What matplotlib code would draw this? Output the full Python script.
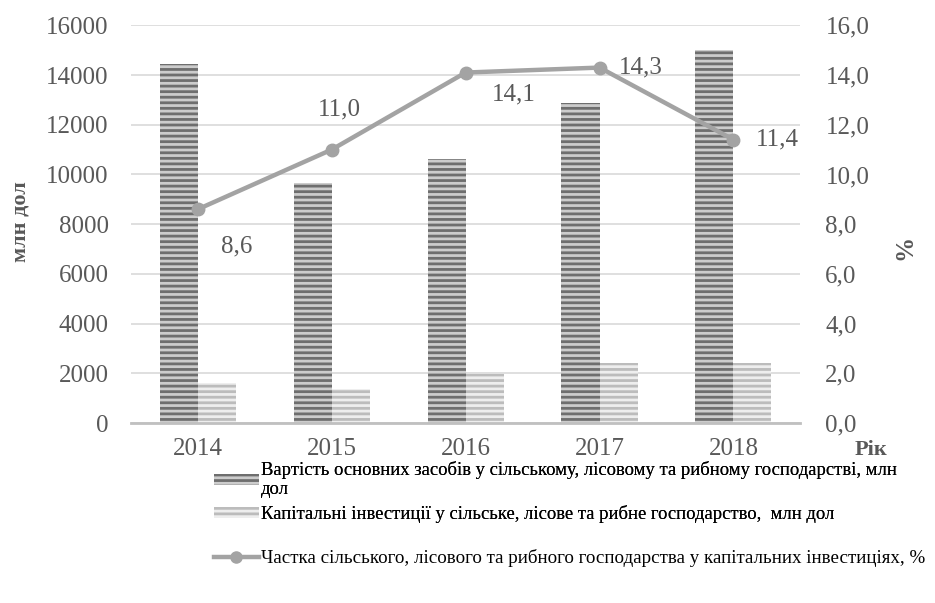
import matplotlib
matplotlib.use("Agg")
import matplotlib.pyplot as plt
from matplotlib.patches import Patch
from matplotlib.lines import Line2D
import numpy as np

years = ["2014", "2015", "2016", "2017", "2018"]
fixed_assets = [14430, 9650, 10610, 12880, 15000]
investments = [1600, 1380, 1990, 2420, 2430]
share = [8.6, 11.0, 14.1, 14.3, 11.4]
share_labels = ["8,6", "11,0", "14,1", "14,3", "11,4"]
left_ticks = [0, 2000, 4000, 6000, 8000, 10000, 12000, 14000, 16000]
right_ticks = [0, 2, 4, 6, 8, 10, 12, 14, 16]

label_fixed = "Вартість основних засобів у сільському, лісовому та рибному господарстві, млн\nдол"
label_inv = "Капітальні інвестиції у сільське, лісове та рибне господарство,  млн дол"
label_share = "Частка сільського, лісового та рибного господарства у капітальних інвестиціях, %"

plt.rcParams['font.family'] = ['Liberation Serif', 'DejaVu Serif']
plt.rcParams['hatch.linewidth'] = 2.0

tick_color = "#595959"
dark_face, dark_hatch = "#cccccc", "#6e6e6e"
light_face, light_hatch = "#eeeeee", "#bcbcbc"
line_color = "#a3a3a3"

fig = plt.figure(figsize=(9.35, 6.03), dpi=100)
ax = fig.add_axes([0.140, 0.2985, 0.716, 0.6595])
ax2 = ax.twinx()

x = np.arange(len(years))
w = 0.284
ax.bar(x - w / 2, fixed_assets, w, color=dark_face, edgecolor=dark_hatch,
       hatch="---", linewidth=0, zorder=2)
ax.bar(x + w / 2, investments, w, color=light_face, edgecolor=light_hatch,
       hatch="---", linewidth=0, zorder=2)

ax.set_xlim(-0.5, len(years) - 0.5)
ax.set_ylim(0, 16000)
ax.set_yticks(left_ticks)
ax.set_yticklabels([str(t) for t in left_ticks])
ax.set_xticks(x)
ax.set_xticklabels(years)
ax.grid(axis="y", color="#d9d9d9", linewidth=1.2, zorder=0)
ax.set_axisbelow(True)
for s in ["top", "left", "right"]:
    ax.spines[s].set_visible(False)
ax.spines["bottom"].set_color("#c0c0c0")
ax.spines["bottom"].set_linewidth(2)
ax.tick_params(axis="both", length=0, labelsize=18, colors=tick_color)
ax.tick_params(axis="y", pad=16)
ax.tick_params(axis="x", pad=11)

ax2.plot(x, share, color=line_color, linewidth=3.2, marker="o",
         markersize=9, zorder=5)
ax2.set_ylim(0, 16)
ax2.set_yticks(right_ticks)
ax2.set_yticklabels([f"{t},0" for t in right_ticks])
for s in ["top", "left", "right", "bottom"]:
    ax2.spines[s].set_visible(False)
ax2.tick_params(axis="y", length=0, labelsize=18, colors=tick_color, pad=18)

offsets = [(39, -37), (8, 40), (48, -22), (41, 0), (44, 0)]
for xi, v, lab, off in zip(x, share, share_labels, offsets):
    ax2.annotate(lab, (xi, v), xytext=off, textcoords="offset pixels",
                 ha="center", va="center", fontsize=18, color=tick_color)

fig.text(0.022, 0.632, "млн дол", rotation=90, ha="center", va="center",
         fontsize=16, fontweight="bold", color=tick_color)
fig.text(0.968, 0.590, "%", rotation=90, ha="center", va="center",
         fontsize=18, fontweight="bold", color=tick_color)
fig.text(0.932, 0.254, "Рік", ha="center", va="center",
         fontsize=16, fontweight="bold", color=tick_color)

h1 = Patch(facecolor=dark_face, edgecolor=dark_hatch, hatch="---", linewidth=0)
h2 = Patch(facecolor=light_face, edgecolor=light_hatch, hatch="---", linewidth=0)
h3 = Line2D([], [], color=line_color, linewidth=3.2, marker="o", markersize=8)

leg1 = fig.legend([h1, h2], [label_fixed, label_inv], loc="upper left",
                  bbox_to_anchor=(0.229, 0.236), frameon=False, fontsize=13.4,
                  handlelength=2.4, handleheight=0.55, handletextpad=0.1,
                  labelspacing=0.35, borderpad=0, borderaxespad=0)
fig.legend([h3], [label_share], loc="upper left",
           bbox_to_anchor=(0.229, 0.089), frameon=False, fontsize=13.7,
           handlelength=2.35, handletextpad=0.1, borderpad=0, borderaxespad=0)
fig.add_artist(leg1)

fig.savefig("out.png", dpi=100)
